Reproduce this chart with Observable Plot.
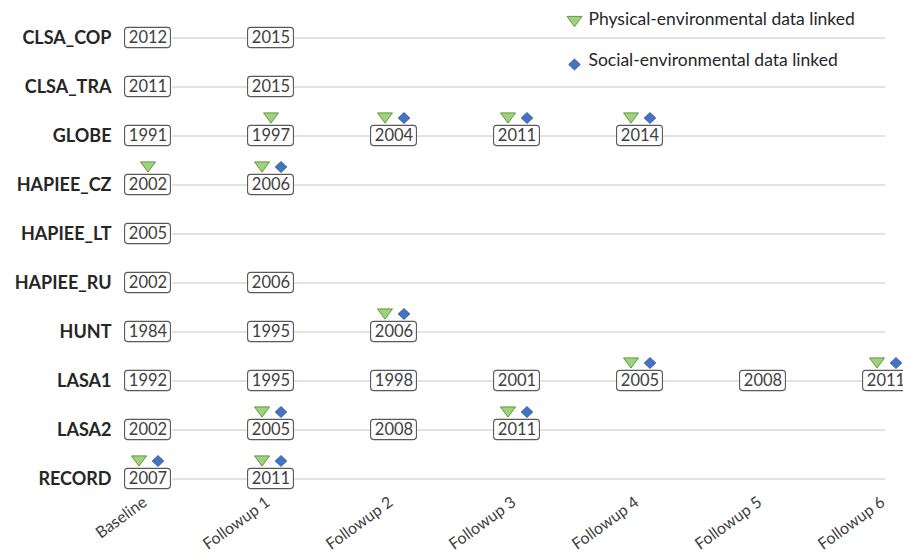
<!DOCTYPE html>
<html>
<head>
<meta charset="utf-8">
<script src="https://cdn.jsdelivr.net/npm/d3@7"></script>
<script src="https://cdn.jsdelivr.net/npm/@observablehq/plot@0.6"></script>
<style>
  html, body { margin: 0; padding: 0; background: #fff; overflow: hidden; }
  #chart { width: 903px; height: 560px; }
</style>
</head>
<body>
<div id="chart"></div>
<script>
const studies = ["CLSA_COP","CLSA_TRA","GLOBE","HAPIEE_CZ","HAPIEE_LT","HAPIEE_RU","HUNT","LASA1","LASA2","RECORD"];
const waves = ["Baseline","Followup 1","Followup 2","Followup 3","Followup 4","Followup 5","Followup 6"];
const years = [
  [2012, 2015],
  [2011, 2015],
  [1991, 1997, 2004, 2011, 2014],
  [2002, 2006],
  [2005],
  [2002, 2006],
  [1984, 1995, 2006],
  [1992, 1995, 1998, 2001, 2005, 2008, 2011],
  [2002, 2005, 2008, 2011],
  [2007, 2011]
];
const physical = [
  [0, 0], [0, 0], [0, 1, 1, 1, 1], [1, 1], [0], [0, 0], [0, 0, 1],
  [0, 0, 0, 0, 1, 0, 1], [0, 1, 0, 1], [1, 1]
];
const social = [
  [0, 0], [0, 0], [0, 0, 1, 1, 1], [0, 1], [0], [0, 0], [0, 0, 1],
  [0, 0, 0, 0, 1, 0, 1], [0, 1, 0, 1], [1, 1]
];
const legendLabels = ["Physical-environmental data linked", "Social-environmental data linked"];

const table = [];
studies.forEach((s, i) => {
  years[i].forEach((y, j) => {
    table.push({study: s, wave: waves[j], year: String(y), phys: !!physical[i][j], soc: !!social[i][j]});
  });
});

const triDown = {
  draw(ctx, size) {
    const r = Math.sqrt(size / Math.PI);
    const h = r * 0.68;
    ctx.moveTo(-r, -h);
    ctx.lineTo(r, -h);
    ctx.lineTo(0, h);
    ctx.closePath();
  }
};
const diamond = {
  draw(ctx, size) {
    const r = Math.sqrt(size / Math.PI);
    const w = r * 1.0, h = r * 0.95;
    ctx.moveTo(0, -h);
    ctx.lineTo(w, 0);
    ctx.lineTo(0, h);
    ctx.lineTo(-w, 0);
    ctx.closePath();
  }
};

const greenFill = "#9fd17e", greenStroke = "#5f9a3c";
const blueFill = "#4472c4", blueStroke = "#2f5597";

const bandW = (947 - 85) / waves.length;
const bandH = (507 - 9) / studies.length;
const boxW = 46, boxH = 21;

const chart = Plot.plot({
  width: 903,
  height: 560,
  marginLeft: 114,
  marginRight: 18,
  marginTop: 0,
  marginBottom: 62,
  style: {fontFamily: "Lato, sans-serif", background: "white", overflow: "visible"},
  x: {type: "band", domain: waves, range: [85, 947], padding: 0},
  y: {type: "band", domain: studies, range: [9, 507], padding: 0},
  marks: [
    Plot.gridY({stroke: "#d9d9d9", strokeOpacity: 1, strokeWidth: 1.5, insetLeft: 58}),
    Plot.axisY({tickSize: 0, tickPadding: 3, fontSize: 18, fontWeight: "bold", fill: "#262626", label: null}),
    Plot.axisX({tickSize: 0, tickPadding: 2, tickRotate: -36, dx: -3, fontSize: 16, fill: "#404040", label: null}),
    Plot.cell(table, {
      x: "wave", y: "study", fill: "white", stroke: "#595959", strokeWidth: 1.1, rx: 3,
      insetLeft: (bandW - boxW) / 2, insetRight: (bandW - boxW) / 2,
      insetTop: (bandH - boxH) / 2, insetBottom: (bandH - boxH) / 2
    }),
    Plot.text(table, {x: "wave", y: "study", text: "year", fontSize: 16.5, fill: "#404040"}),
    Plot.dot(table.filter(d => d.phys && !d.soc), {x: "wave", y: "study", symbol: triDown, r: 7.5, dy: -18, fill: greenFill, stroke: greenStroke, strokeWidth: 1}),
    Plot.dot(table.filter(d => d.phys && d.soc), {x: "wave", y: "study", symbol: triDown, r: 7.5, dx: -9, dy: -18, fill: greenFill, stroke: greenStroke, strokeWidth: 1}),
    Plot.dot(table.filter(d => d.soc), {x: "wave", y: "study", symbol: diamond, r: 5.8, dx: 10, dy: -18, fill: blueFill, stroke: blueStroke, strokeWidth: 0.8}),
    // legend
    Plot.dot([legendLabels[0]], {frameAnchor: "top-left", symbol: triDown, r: 7.5, dx: 460, dy: 21, fill: greenFill, stroke: greenStroke, strokeWidth: 1}),
    Plot.dot([legendLabels[1]], {frameAnchor: "top-left", symbol: diamond, r: 5.8, dx: 460, dy: 64, fill: blueFill, stroke: blueStroke, strokeWidth: 0.8}),
    Plot.text([legendLabels[0]], {frameAnchor: "top-left", text: d => d, textAnchor: "start", lineAnchor: "middle", dx: 474, dy: 19, fontSize: 17.5, fill: "#262626"}),
    Plot.text([legendLabels[1]], {frameAnchor: "top-left", text: d => d, textAnchor: "start", lineAnchor: "middle", dx: 474, dy: 60, fontSize: 17.5, fill: "#262626"})
  ]
});
document.getElementById("chart").appendChild(chart);
</script>
</body>
</html>
